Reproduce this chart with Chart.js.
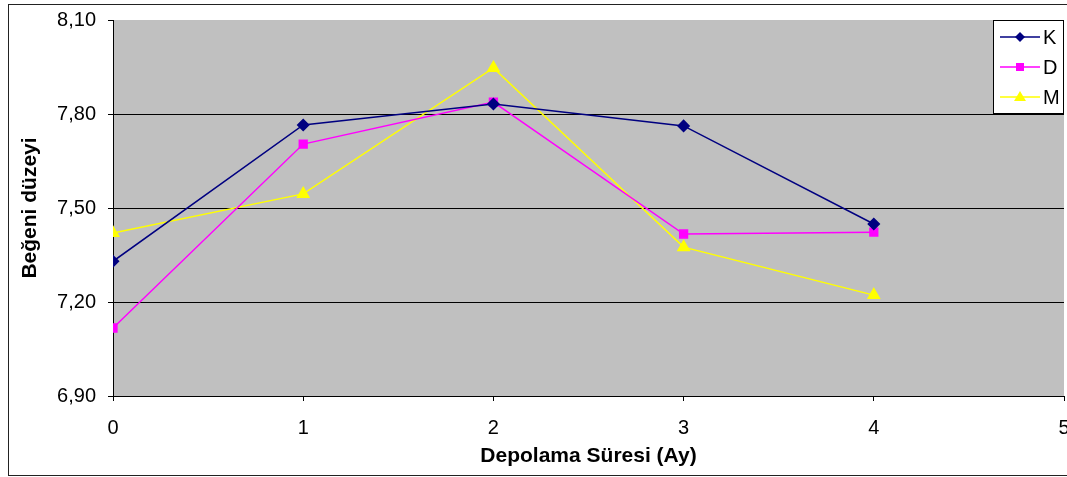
<!DOCTYPE html>
<html>
<head>
<meta charset="utf-8">
<script src="https://cdn.jsdelivr.net/npm/chart.js@4/dist/chart.umd.min.js"></script>
<style>
  html, body { margin: 0; padding: 0; background: #fff; overflow: hidden; }
  #wrap { width: 1067px; height: 477px; overflow: hidden; }
</style>
</head>
<body>
<div id="wrap"><canvas id="myChart" width="1072" height="477"></canvas></div>
<script>
// depolama suresi (ay) ve her grubun begeni duzeyi
var months = [0, 1, 2, 3, 4];
var kValues = [7.33, 7.765, 7.832, 7.762, 7.449];
var dValues = [7.117, 7.704, 7.838, 7.417, 7.423];
var mValues = [7.42, 7.545, 7.947, 7.375, 7.222];
var seriesNames = ['K', 'D', 'M'];
var yTicks = [6.9, 7.2, 7.5, 7.8, 8.1];

function toPoints(values) {
  return values.map((v, i) => ({ x: months[i], y: v }));
}

var FONT = 'Arial, "Liberation Sans", sans-serif';

// gri cizim alani
var plotBg = {
  id: 'plotBg',
  beforeDraw(chart) {
    var a = chart.chartArea;
    var ctx = chart.ctx;
    ctx.save();
    ctx.fillStyle = '#c0c0c0';
    ctx.fillRect(a.left, a.top, a.right - a.left, a.bottom - a.top);
    ctx.restore();
  }
};

// dis cerceve + sag ustteki lejant
var frameAndLegend = {
  id: 'frameAndLegend',
  afterDraw(chart) {
    var ctx = chart.ctx;
    ctx.save();
    ctx.strokeStyle = '#222';
    ctx.lineWidth = 1;
    ctx.strokeRect(8.5, 4.5, 1100, 471);

    var bx = 993.5, by = 20.5, bw = 70, bh = 93;
    ctx.fillStyle = '#fff';
    ctx.fillRect(bx, by, bw, bh);
    ctx.strokeStyle = '#000';
    ctx.strokeRect(bx, by, bw, bh);

    chart.data.datasets.forEach((ds, i) => {
      var y = 37 + i * 30;
      ctx.strokeStyle = ds.borderColor;
      ctx.lineWidth = 1.5;
      ctx.beginPath();
      ctx.moveTo(1000, y);
      ctx.lineTo(1040, y);
      ctx.stroke();
      ctx.fillStyle = ds.pointBackgroundColor;
      ctx.beginPath();
      if (ds.pointStyle == 'rectRot') {
        ctx.moveTo(1020, y - 5); ctx.lineTo(1025, y); ctx.lineTo(1020, y + 5); ctx.lineTo(1015, y);
      } else if (ds.pointStyle == 'rect') {
        ctx.rect(1016, y - 4, 8, 8);
      } else {
        ctx.moveTo(1020, y - 6); ctx.lineTo(1026, y + 4); ctx.lineTo(1014, y + 4);
      }
      ctx.closePath();
      ctx.fill();
      ctx.fillStyle = '#000';
      ctx.font = '20px ' + FONT;
      ctx.textBaseline = 'middle';
      ctx.fillText(ds.label, 1043, y + 1);
    });
    ctx.restore();
  }
};

new Chart('myChart', {
  type: 'line',
  data: {
    datasets: [{
      label: seriesNames[0],
      data: toPoints(kValues),
      borderColor: '#000080',
      backgroundColor: '#000080',
      pointBackgroundColor: '#000080',
      pointBorderColor: '#000080',
      pointStyle: 'rectRot',
      pointRadius: 5.5,
      borderWidth: 1.5
    }, {
      label: seriesNames[1],
      data: toPoints(dValues),
      borderColor: '#ff00ff',
      backgroundColor: '#ff00ff',
      pointBackgroundColor: '#ff00ff',
      pointBorderColor: '#ff00ff',
      pointStyle: 'rect',
      pointRadius: 5.5,
      borderWidth: 1.5
    }, {
      label: seriesNames[2],
      data: toPoints(mValues),
      borderColor: '#ffff00',
      backgroundColor: '#ffff00',
      pointBackgroundColor: '#ffff00',
      pointBorderColor: '#ffff00',
      pointStyle: 'triangle',
      pointRadius: 6.5,
      borderWidth: 1.5
    }]
  },
  options: {
    responsive: false,
    animation: false,
    layout: { padding: { left: 15, top: 20, right: 0, bottom: 0 } },
    plugins: {
      legend: { display: false },
      tooltip: { enabled: false }
    },
    scales: {
      x: {
        type: 'linear',
        min: 0,
        max: 5,
        afterFit(scale) {
          scale.height = 81;
          scale.paddingLeft = 0;
          scale.paddingRight = 0;
        },
        ticks: {
          stepSize: 1,
          color: '#000',
          padding: 15,
          maxRotation: 0,
          font: { family: FONT, size: 20 }
        },
        grid: { drawOnChartArea: false, tickLength: 5, tickColor: '#000' },
        border: { color: '#000', width: 1 },
        title: {
          display: true,
          text: 'Depolama Süresi (Ay)',
          color: '#000',
          padding: { top: 0, bottom: 8 },
          font: { family: FONT, size: 21, weight: 'bold' }
        }
      },
      y: {
        min: 6.9,
        max: 8.1,
        afterFit(scale) {
          scale.width = 98;
          scale.paddingTop = 0;
          scale.paddingBottom = 0;
        },
        afterBuildTicks(scale) {
          scale.ticks = yTicks.map(v => ({ value: v }));
        },
        ticks: {
          color: '#000',
          padding: 12,
          font: { family: FONT, size: 20 },
          callback: v => v.toFixed(2).replace('.', ',')
        },
        grid: {
          color: c => (c.tick && c.tick.value > 8.05 ? 'rgba(0,0,0,0)' : '#000'),
          tickColor: '#000',
          tickLength: 5
        },
        border: { color: '#000', width: 1 },
        title: {
          display: true,
          text: 'Beğeni düzeyi',
          color: '#000',
          padding: { top: 3, bottom: 0 },
          font: { family: FONT, size: 21, weight: 'bold' }
        }
      }
    }
  },
  plugins: [plotBg, frameAndLegend]
});
</script>
</body>
</html>
